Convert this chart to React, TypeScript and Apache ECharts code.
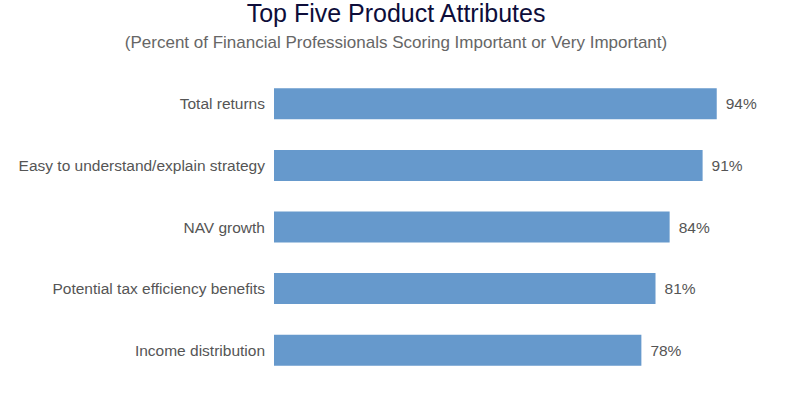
import React, { useEffect, useRef } from "react";
import * as echarts from "echarts";

const categories = [
  "Total returns",
  "Easy to understand/explain strategy",
  "NAV growth",
  "Potential tax efficiency benefits",
  "Income distribution",
];
const values = [94, 91, 84, 81, 78];

const titleText = "Top Five Product Attributes";
const subtitleText = "(Percent of Financial Professionals Scoring Important or Very Important)";

export default function App() {
  const ref = useRef<HTMLDivElement>(null);
  useEffect(() => {
    if (!ref.current) return;
    const chart = echarts.init(ref.current, undefined, { renderer: "svg" });
    chart.setOption({
      animation: false,
      backgroundColor: "#ffffff",
      title: [
        {
          text: titleText,
          left: "center",
          top: 0,
          padding: 0,
          textStyle: {
            fontFamily: "Liberation Sans, Arial, sans-serif",
            fontSize: 25,
            lineHeight: 26,
            fontWeight: "normal",
            color: "#0d0d3a",
          },
        },
        {
          text: subtitleText,
          left: "center",
          top: 32,
          padding: 0,
          textStyle: {
            fontFamily: "Liberation Sans, Arial, sans-serif",
            fontSize: 17,
            lineHeight: 20,
            fontWeight: "normal",
            color: "#666666",
          },
        },
      ],
      grid: { left: 274, right: 47, top: 73, bottom: 12, containLabel: false },
      xAxis: {
        type: "value",
        min: 0,
        max: 100,
        show: false,
      },
      yAxis: {
        type: "category",
        data: categories,
        inverse: true,
        axisLine: { show: false },
        axisTick: { show: false },
        axisLabel: {
          margin: 9,
          fontFamily: "Liberation Sans, Arial, sans-serif",
          fontSize: 15.5,
          color: "#555555",
        },
      },
      series: [
        {
          type: "bar",
          data: values,
          barWidth: 31,
          itemStyle: { color: "#6699cc" },
          label: {
            show: true,
            position: "right",
            distance: 9,
            formatter: "{c}%",
            fontFamily: "Liberation Sans, Arial, sans-serif",
            fontSize: 15.5,
            color: "#555555",
          },
        },
      ],
    });
    return () => chart.dispose();
  }, []);
  return (
    <div
      ref={ref}
      style={{ position: "absolute", left: 0, top: 0, width: 792, height: 393 }}
    />
  );
}
